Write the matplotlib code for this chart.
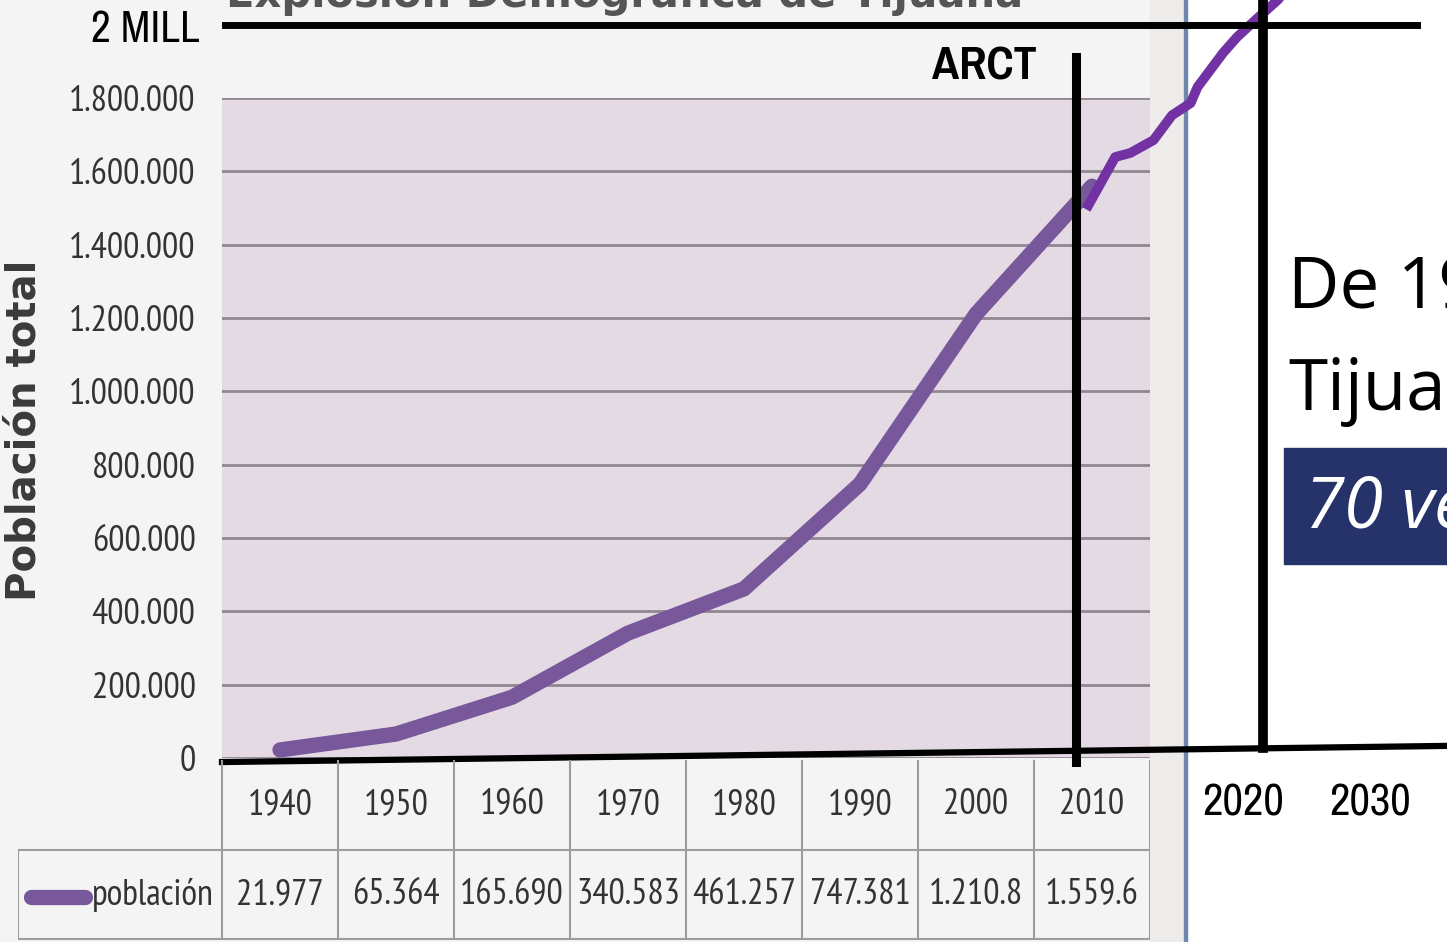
import matplotlib
matplotlib.use("Agg")
import matplotlib.pyplot as plt
from matplotlib import font_manager
from matplotlib.patches import Rectangle
from matplotlib.ticker import FuncFormatter

# data
years = [1940, 1950, 1960, 1970, 1980, 1990, 2000, 2010]
poblacion = [21977, 65364, 165690, 340583, 461257, 747381, 1210800, 1559600]
value_labels = ["21.977", "65.364", "165.690", "340.583", "461.257", "747.381", "1.210.8", "1.559.6"]
y_ticks = [0, 200000, 400000, 600000, 800000, 1000000, 1200000, 1400000, 1600000, 1800000]

# hand drawn projection on top of the screenshot
proj_years = [2009.7, 2012.0, 2013.3, 2015.3, 2016.9, 2018.5, 2019.1, 2021.3, 2022.5, 2024.1, 2026.0, 2027.1]
proj_pop = [1508000, 1639000, 1650000, 1685000, 1753000, 1786000, 1830000, 1923000, 1966000, 2013000, 2067000, 2108000]
future_labels = ["2020", "2030"]
future_pos = [2023.0, 2034.0]

W, H = 1447, 942


def pick_font(names):
    for n in names:
        try:
            font_manager.findfont(n, fallback_to_default=False)
            return n
        except ValueError:
            pass
    return "DejaVu Sans"


EXCEL = pick_font(["PT Sans Narrow", "Roboto Condensed", "Liberation Sans"])
NARROW = pick_font(["Pragati Narrow", "Archivo Narrow", "Liberation Sans"])
SANS = pick_font(["Open Sans", "Noto Sans"])


def xi(year):
    return (year - 1940) / 10.0


def fx(px):
    return px / W


def fy(py):
    return 1 - py / H


fig = plt.figure(figsize=(W / 100, H / 100), dpi=100, facecolor="white")

# screenshot backgrounds
fig.patches.append(Rectangle((0, 0), fx(1150), 1, transform=fig.transFigure,
                             color="#f4f4f4", zorder=-2))
fig.patches.append(Rectangle((fx(1150), 0), fx(35), 1, transform=fig.transFigure,
                             color="#eeecea", zorder=-2))
fig.patches.append(Rectangle((fx(1184), 0), fx(3), 1, transform=fig.transFigure,
                             color="#6f86ad", zorder=-2))

ax = fig.add_axes([fx(222), fy(758), fx(928), 660 / H])
ax.set_facecolor("#e3dae3")
ax.set_xlim(-0.5, 7.5)
ax.set_ylim(0, 1800000)
for s in ax.spines.values():
    s.set_visible(False)
ax.set_xticks([])
ax.set_yticks(y_ticks)
ax.yaxis.set_major_formatter(FuncFormatter(lambda v, p: f"{int(v):,}".replace(",", ".")))
ax.tick_params(axis="y", length=0, pad=19, labelsize=26, labelcolor="#333333")
for lab in ax.get_yticklabels():
    lab.set_fontfamily(EXCEL)
ax.yaxis.grid(True, color="#928790", lw=2)
ax.set_axisbelow(True)

ax.plot([xi(y) for y in years], poblacion, color="#78579a", lw=11,
        solid_capstyle="round", solid_joinstyle="round", zorder=3)

# annotations drawn over the screenshot
ax.plot([xi(y) for y in proj_years], proj_pop, color="#7232a3", lw=7,
        solid_joinstyle="round", clip_on=False, zorder=5)
ax.plot([-0.47, 9.8], [2000000, 2000000], color="black", lw=5, clip_on=False, zorder=6)
ax.plot([xi(2008.6), xi(2008.6)], [-11000, 1911000], color="black", lw=6.5, clip_on=False, zorder=6)
ax.plot([xi(2024.7), xi(2024.7)], [27000, 2120000], color="black", lw=7, clip_on=False, zorder=6)
ax.plot([-0.5, 10.06], [-11000, 33000], color="black", lw=4.5, clip_on=False, zorder=6)

ax.text(-0.69, 1985000, "2 MILL", ha="right", va="center", fontsize=34,
        family=NARROW, color="black", clip_on=False)
ax.text(xi(2000.7), 1885000, "ARCT", ha="center", va="center", fontsize=36,
        family=NARROW, weight="bold", color="black", clip_on=False)
for lab, yr in zip(future_labels, future_pos):
    ax.text(xi(yr), -123000, lab, ha="center", va="center", fontsize=35,
            family=NARROW, color="black", clip_on=False)

fig.text(fx(25), fy(430), "Población total", rotation=90, ha="center", va="center",
         fontsize=29, weight="bold", family="DejaVu Sans", color="#3a3a3a")
fig.text(fx(625), fy(7), "Explosión Demográfica de Tijuana", ha="center", va="baseline",
         fontsize=30, weight="bold", family="DejaVu Sans", color="#555555")

# data table under the chart
left = -0.5 - (222 - 18) / 116
tab = fig.add_axes([fx(18), fy(940), fx(1132), 180 / H])
tab.set_xlim(left, 7.5)
tab.set_ylim(0, 2)
tab.set_axis_off()
grid_kw = dict(color="#9d9d9d", lw=1.5)
tab.plot([left, 7.5], [1, 1], **grid_kw)
tab.plot([left, 7.5], [0.01, 0.01], **grid_kw)
tab.plot([left, left], [0, 1], **grid_kw)
for k in range(9):
    tab.plot([k - 0.5, k - 0.5], [0, 2], **grid_kw)
for i, (yr, lab) in enumerate(zip(years, value_labels)):
    tab.text(i, 1.5, str(yr), ha="center", va="center", fontsize=26,
             family=EXCEL, color="#333333")
    tab.text(i, 0.5, lab, ha="center", va="center", fontsize=26,
             family=EXCEL, color="#333333")
tab.plot([left + 0.11, left + 0.58], [0.48, 0.48], color="#78579a", lw=11,
         solid_capstyle="round")
tab.text(left + 0.64, 0.5, "población", ha="left", va="center", fontsize=26,
         family=EXCEL, color="#333333")

# text box on the right
fig.text(fx(1288), fy(308), "De 1940 a 2010", ha="left", va="baseline",
         fontsize=51, family=SANS, color="black")
fig.text(fx(1288), fy(410), "Tijuana", ha="left", va="baseline",
         fontsize=51, family=SANS, color="black")
fig.patches.append(Rectangle((fx(1284), fy(564)), fx(1447 - 1284), 116 / H,
                             transform=fig.transFigure, color="#26336a", zorder=1))
fig.text(fx(1305), fy(528), "70 veces", ha="left", va="baseline", fontsize=51,
         family=SANS, style="italic", color="white", zorder=2)

fig.savefig("out.png", dpi=100)
